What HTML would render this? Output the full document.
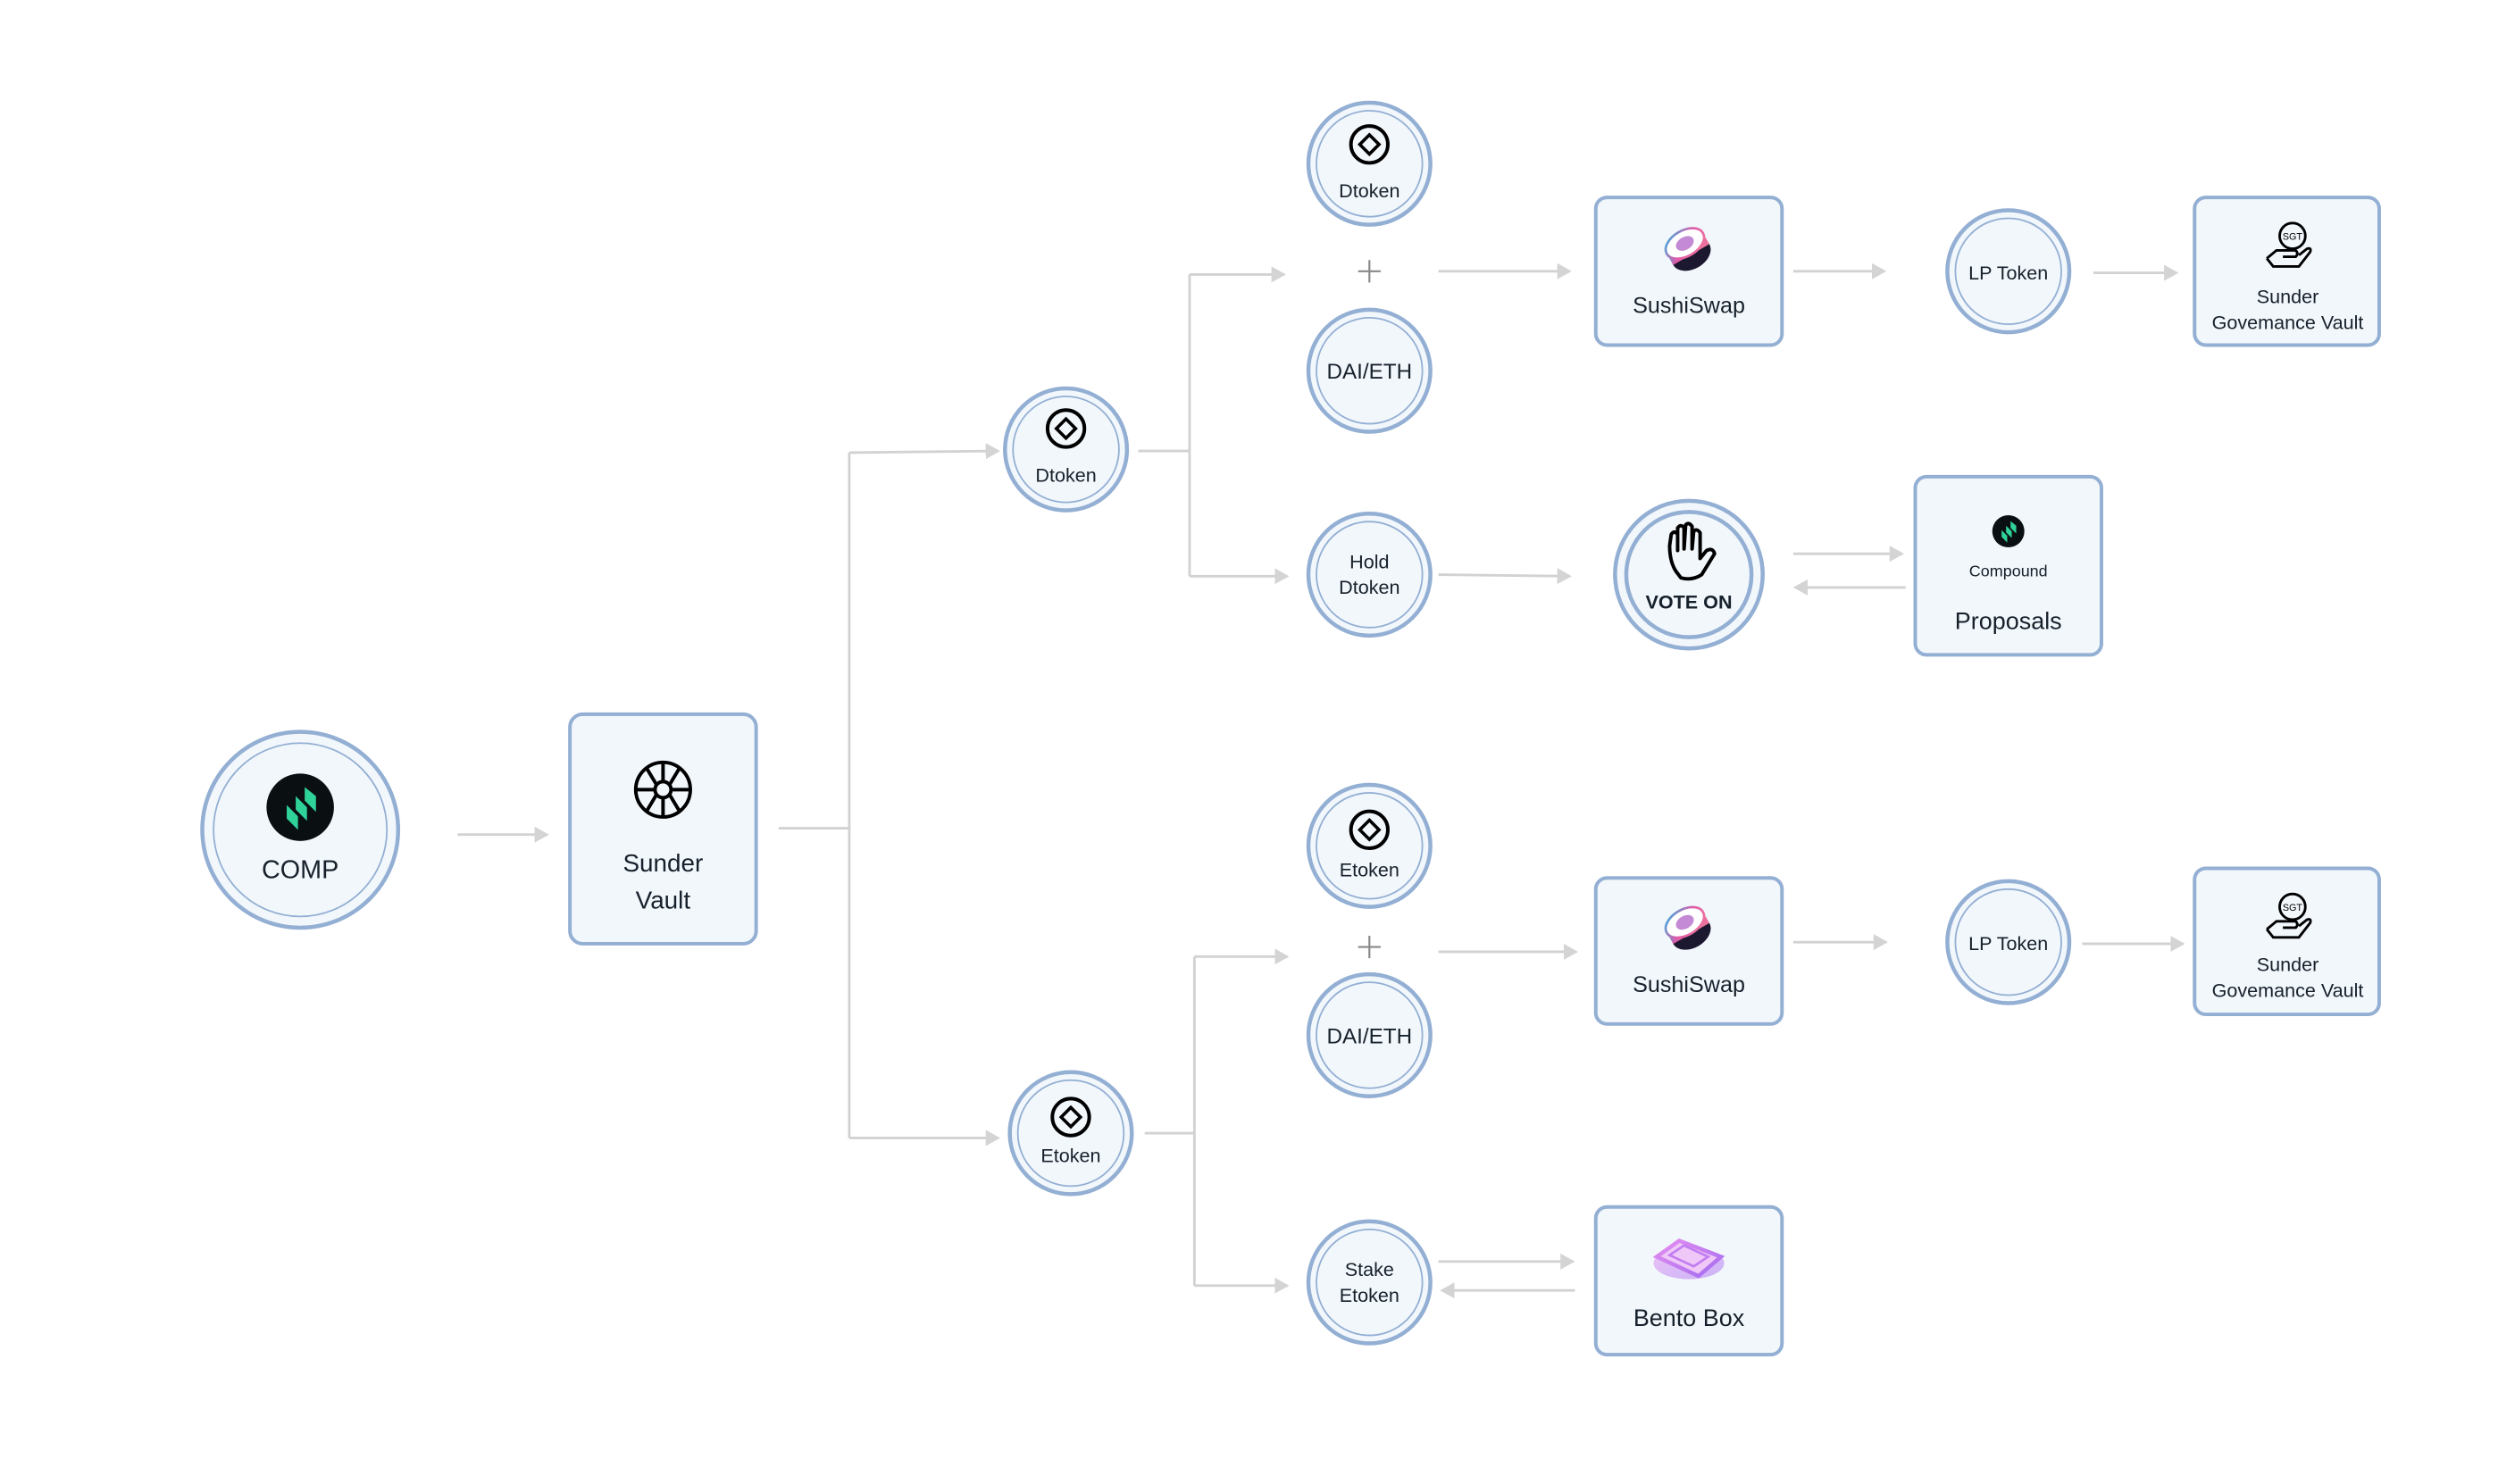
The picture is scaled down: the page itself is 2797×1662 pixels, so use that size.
<!DOCTYPE html>
<html><head><meta charset="utf-8"><style>
html,body{margin:0;padding:0;background:#fff;width:2797px;height:1662px;overflow:hidden}
svg{display:block}
text{font-family:"Liberation Sans",sans-serif;fill:#17212b;text-anchor:middle}
</style></head><body>
<svg width="2797" height="1662" viewBox="0 0 1556 924.6" xmlns="http://www.w3.org/2000/svg">
<defs>
<marker id="ah" markerWidth="10" markerHeight="10" refX="8" refY="5" orient="auto" markerUnits="userSpaceOnUse">
<path d="M0,0 L9,5 L0,10 Z" fill="#d4d4d4"/></marker>
<linearGradient id="sg" x1="0" y1="0" x2="1" y2="1"><stop offset="0" stop-color="#2ab7e6"/><stop offset="0.5" stop-color="#e05aa8"/><stop offset="1" stop-color="#f07a9a"/></linearGradient>
<linearGradient id="bg" x1="0" y1="0" x2="1" y2="1"><stop offset="0" stop-color="#e58ff0"/><stop offset="1" stop-color="#a46cf0"/></linearGradient>
<g id="dtok"><circle r="11.5" fill="none" stroke="#000" stroke-width="2.2"/><path d="M0,-6 L6,0 L0,6 L-6,0Z" fill="none" stroke="#000" stroke-width="2"/></g>
<g id="comp"><path d="M-6,3 L-1,8 L-1,2 L-6,-3Z M-2,-1 L3,4 L3,-2 L-2,-7Z M2,-5 L7,0 L7,-7 L2,-11Z" fill="#2fd39a" transform="translate(0,2)"/></g>
<g id="sushi"><g transform="rotate(-30)"><ellipse cx="0" cy="3" rx="13" ry="9" fill="#1c1830"/><rect x="-13" y="-5" width="26" height="8" fill="url(#sg)"/><ellipse cx="0" cy="-5" rx="13" ry="8" fill="#fff" stroke="url(#sg)" stroke-width="1.5"/><ellipse cx="0" cy="-5" rx="6" ry="4" fill="#c48ad6"/></g></g>
<g id="sgt" fill="none" stroke="#000" stroke-width="1.6"><circle cx="4" cy="-8" r="8"/><text x="4" y="-5.5" style="font-size:6px;stroke:none;fill:#000">SGT</text><path d="M-12,6 L-6,1 L6,1 Q8,3 6,5 L-2,5 M-12,6 L-8,11 L8,11 L15,2 Q16,-1 13,0 L8,4"/></g>
</defs>

<g fill="none" stroke="#d2d2d2" stroke-width="1.6">
<line x1="285" y1="520" x2="341" y2="520" marker-end="url(#ah)"/>
<path d="M485,516 H529 M529,282 V709"/>
<line x1="529" y1="282" x2="622" y2="281" marker-end="url(#ah)"/>
<line x1="529" y1="709" x2="622" y2="709" marker-end="url(#ah)"/>
<path d="M709,281 H741 M741,171 V359"/>
<line x1="741" y1="171" x2="800" y2="171" marker-end="url(#ah)"/>
<line x1="741" y1="359" x2="802" y2="359" marker-end="url(#ah)"/>
<line x1="896" y1="169" x2="978" y2="169" marker-end="url(#ah)"/>
<line x1="1117" y1="169" x2="1174" y2="169" marker-end="url(#ah)"/>
<line x1="1304" y1="170" x2="1356" y2="170" marker-end="url(#ah)"/>
<line x1="896" y1="358" x2="978" y2="359" marker-end="url(#ah)"/>
<line x1="1117" y1="345" x2="1185" y2="345" marker-end="url(#ah)"/>
<line x1="1187" y1="366" x2="1118" y2="366" marker-end="url(#ah)"/>
<path d="M713,706 H744 M744,596 V801"/>
<line x1="744" y1="596" x2="802" y2="596" marker-end="url(#ah)"/>
<line x1="744" y1="801" x2="802" y2="801" marker-end="url(#ah)"/>
<line x1="896" y1="593" x2="982" y2="593" marker-end="url(#ah)"/>
<line x1="1117" y1="587" x2="1175" y2="587" marker-end="url(#ah)"/>
<line x1="1297" y1="588" x2="1360" y2="588" marker-end="url(#ah)"/>
<line x1="896" y1="786" x2="980" y2="786" marker-end="url(#ah)"/>
<line x1="981" y1="804" x2="898" y2="804" marker-end="url(#ah)"/>
</g>
<g stroke="#888" stroke-width="1.2"><path d="M846,169 H860 M853,162 V176 M846,590 H860 M853,583 V597"/></g>

<g fill="#f2f7fc" stroke="#93afd3">
<circle cx="187" cy="517" r="61" stroke-width="2.5"/><circle cx="187" cy="517" r="54" stroke-width="1"/>
<rect x="355" y="445" width="116" height="143" rx="8" stroke-width="2.2"/>
<circle cx="664" cy="280" r="38" stroke-width="2.5"/><circle cx="664" cy="280" r="33" stroke-width="1"/>
<circle cx="853" cy="102" r="38" stroke-width="2.5"/><circle cx="853" cy="102" r="33" stroke-width="1"/>
<circle cx="853" cy="231" r="38" stroke-width="2.5"/><circle cx="853" cy="231" r="33" stroke-width="1"/>
<circle cx="853" cy="358" r="38" stroke-width="2.5"/><circle cx="853" cy="358" r="33" stroke-width="1"/>
<rect x="994" y="123" width="116" height="92" rx="7" stroke-width="2.2"/>
<circle cx="1251" cy="169" r="38" stroke-width="2.5"/><circle cx="1251" cy="169" r="33" stroke-width="1"/>
<rect x="1367" y="123" width="115" height="92" rx="7" stroke-width="2.2"/>
<circle cx="1052" cy="358" r="46" stroke-width="2.5"/><circle cx="1052" cy="358" r="39" stroke-width="2.5"/>
<rect x="1193" y="297" width="116" height="111" rx="7" stroke-width="2.2"/>
<circle cx="667" cy="706" r="38" stroke-width="2.5"/><circle cx="667" cy="706" r="33" stroke-width="1"/>
<circle cx="853" cy="527" r="38" stroke-width="2.5"/><circle cx="853" cy="527" r="33" stroke-width="1"/>
<circle cx="853" cy="645" r="38" stroke-width="2.5"/><circle cx="853" cy="645" r="33" stroke-width="1"/>
<rect x="994" y="547" width="116" height="91" rx="7" stroke-width="2.2"/>
<circle cx="1251" cy="587" r="38" stroke-width="2.5"/><circle cx="1251" cy="587" r="33" stroke-width="1"/>
<rect x="1367" y="541" width="115" height="91" rx="7" stroke-width="2.2"/>
<circle cx="853" cy="799" r="38" stroke-width="2.5"/><circle cx="853" cy="799" r="33" stroke-width="1"/>
<rect x="994" y="752" width="116" height="92" rx="7" stroke-width="2.2"/>
</g>

<!-- icons -->
<circle cx="187" cy="503" r="21" fill="#0a0f12"/>
<use href="#comp" transform="translate(187,503) scale(1.4)"/>
<g transform="translate(413,492)" fill="none" stroke="#000" stroke-width="2.2"><circle r="17"/><circle r="5"/><path d="M0,-17 V-5 M0,5 V17 M-17,0 H-5 M5,0 H17 M-4,-3 L-10,-13 M4,-3 L10,-13 M-4,3 L-10,13 M4,3 L10,13"/></g>
<use href="#dtok" transform="translate(664,267)"/>
<use href="#dtok" transform="translate(853,90)"/>
<g transform="translate(667,696)"><circle r="11.5" fill="none" stroke="#000" stroke-width="2.2"/><path d="M0,-6 L6,0 L0,6 L-6,0Z" fill="none" stroke="#000" stroke-width="2"/></g>
<g transform="translate(853,517)"><circle r="11.5" fill="none" stroke="#000" stroke-width="2.2"/><path d="M0,-6 L6,0 L0,6 L-6,0Z" fill="none" stroke="#000" stroke-width="2"/></g>
<use href="#sushi" transform="translate(1052,156)"/>
<use href="#sushi" transform="translate(1052,579)"/>
<use href="#sgt" transform="translate(1424,155)"/>
<use href="#sgt" transform="translate(1424,573)"/>
<circle cx="1251" cy="331" r="10" fill="#0a0f12"/><use href="#comp" transform="translate(1251,331) scale(0.7)"/>
<path d="M1044,356 Q1040,350 1040,340 L1041,333 Q1043,330 1045,333 L1045,343 L1045,329 Q1047,326 1049,329 L1049,342 L1050,327 Q1052,325 1054,328 L1054,342 L1055,331 Q1057,329 1059,332 L1059,348 L1063,343 Q1067,341 1068,345 L1060,358 Q1054,362 1047,360Z" fill="none" stroke="#000" stroke-width="2.2" stroke-linejoin="round"/>
<g transform="translate(1052,785)"><ellipse cx="0" cy="2" rx="22" ry="10" fill="url(#bg)" opacity="0.5"/><path d="M-20,-2 L-6,-12 L20,-2 L6,10Z" fill="#f0c8f8" stroke="url(#bg)" stroke-width="2.5"/><path d="M-12,-3 L-3,-9 L12,-2 L3,4Z" fill="none" stroke="#c27ef0" stroke-width="1.5"/></g>

<!-- labels -->
<text x="187" y="547" style="font-size:16px">COMP</text>
<text x="413" y="543" style="font-size:15.5px">Sunder</text>
<text x="413" y="566" style="font-size:15.5px">Vault</text>
<g style="font-size:12px">
<text x="664" y="300">Dtoken</text>
<text x="853" y="123">Dtoken</text>
<text x="853" y="354">Hold</text>
<text x="853" y="370">Dtoken</text>
<text x="667" y="724">Etoken</text>
<text x="853" y="546">Etoken</text>
<text x="853" y="795">Stake</text>
<text x="853" y="811">Etoken</text>
<text x="1251" y="174">LP Token</text>
<text x="1251" y="592">LP Token</text>
<text x="1425" y="189">Sunder</text>
<text x="1425" y="205">Govemance Vault</text>
<text x="1425" y="605">Sunder</text>
<text x="1425" y="621">Govemance Vault</text>
<text x="1052" y="379" style="font-weight:bold">VOTE ON</text>
</g>
<text x="853" y="236" style="font-size:13.5px">DAI/ETH</text>
<text x="853" y="650" style="font-size:13.5px">DAI/ETH</text>
<text x="1052" y="195" style="font-size:14px">SushiSwap</text>
<text x="1052" y="618" style="font-size:14px">SushiSwap</text>
<text x="1251" y="359" style="font-size:10px">Compound</text>
<text x="1251" y="392" style="font-size:15px">Proposals</text>
<text x="1052" y="826" style="font-size:15px">Bento Box</text>
</svg>
</body></html>
